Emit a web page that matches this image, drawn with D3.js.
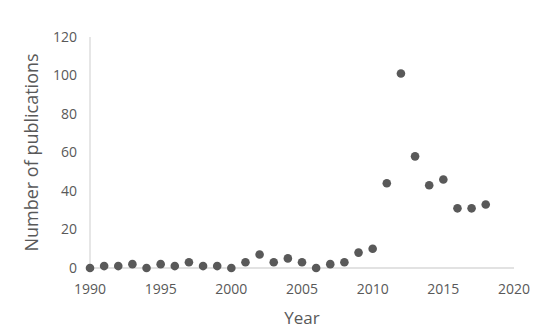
<!DOCTYPE html>
<html>
<head>
<meta charset="utf-8">
<script src="https://cdn.jsdelivr.net/npm/d3@7"></script>
<style>
  body { margin: 0; background: #fff; }
  svg text { font-family: "Open Sans", sans-serif; fill: #595959; }
</style>
</head>
<body>
<div id="chart"></div>
<script>
// publications per year
const years = [1990, 1991, 1992, 1993, 1994, 1995, 1996, 1997, 1998, 1999,
               2000, 2001, 2002, 2003, 2004, 2005, 2006, 2007, 2008, 2009,
               2010, 2011, 2012, 2013, 2014, 2015, 2016, 2017, 2018];
const counts = [0, 1, 1, 2, 0, 2, 1, 3, 1, 1,
                0, 3, 7, 3, 5, 3, 0, 2, 3, 8,
                10, 44, 101, 58, 43, 46, 31, 31, 33];
const xTicks = [1990, 1995, 2000, 2005, 2010, 2015, 2020];
const yTicks = [0, 20, 40, 60, 80, 100, 120];

const width = 541, height = 333;
const margin = {left: 90, right: 27, top: 37, bottom: 65};

const x = d3.scaleLinear().domain([1990, 2020]).range([margin.left, width - margin.right]);
const y = d3.scaleLinear().domain([0, 120]).range([height - margin.bottom, margin.top]);

const svg = d3.select("#chart").append("svg")
    .attr("width", width)
    .attr("height", height);

// axis lines
svg.append("line")
    .attr("x1", x(1990)).attr("x2", x(2020))
    .attr("y1", y(0)).attr("y2", y(0))
    .attr("stroke", "#d9d9d9").attr("stroke-width", 1.3);
svg.append("line")
    .attr("x1", x(1990)).attr("x2", x(1990))
    .attr("y1", y(0)).attr("y2", y(120))
    .attr("stroke", "#d9d9d9").attr("stroke-width", 1.3);

// tick labels
svg.append("g").selectAll("text")
    .data(yTicks)
    .join("text")
    .attr("x", margin.left - 13)
    .attr("y", d => y(d))
    .attr("dy", "0.35em")
    .attr("text-anchor", "end")
    .style("font-size", "14px")
    .text(d => d);

svg.append("g").selectAll("text")
    .data(xTicks)
    .join("text")
    .attr("x", d => x(d))
    .attr("y", y(0) + 26)
    .attr("text-anchor", "middle")
    .style("font-size", "14px")
    .text(d => d);

// titles
svg.append("text")
    .attr("transform", `translate(38,${(y(0) + y(120)) / 2}) rotate(-90)`)
    .attr("text-anchor", "middle")
    .style("font-size", "18px")
    .text("Number of publications");

svg.append("text")
    .attr("x", (x(1990) + x(2020)) / 2)
    .attr("y", 324)
    .attr("text-anchor", "middle")
    .style("font-size", "17px")
    .text("Year");

// points
svg.append("g").selectAll("circle")
    .data(years.map((yr, i) => ({yr, n: counts[i]})))
    .join("circle")
    .attr("cx", d => x(d.yr))
    .attr("cy", d => y(d.n))
    .attr("r", 4.3)
    .attr("fill", "#595959");
</script>
</body>
</html>
